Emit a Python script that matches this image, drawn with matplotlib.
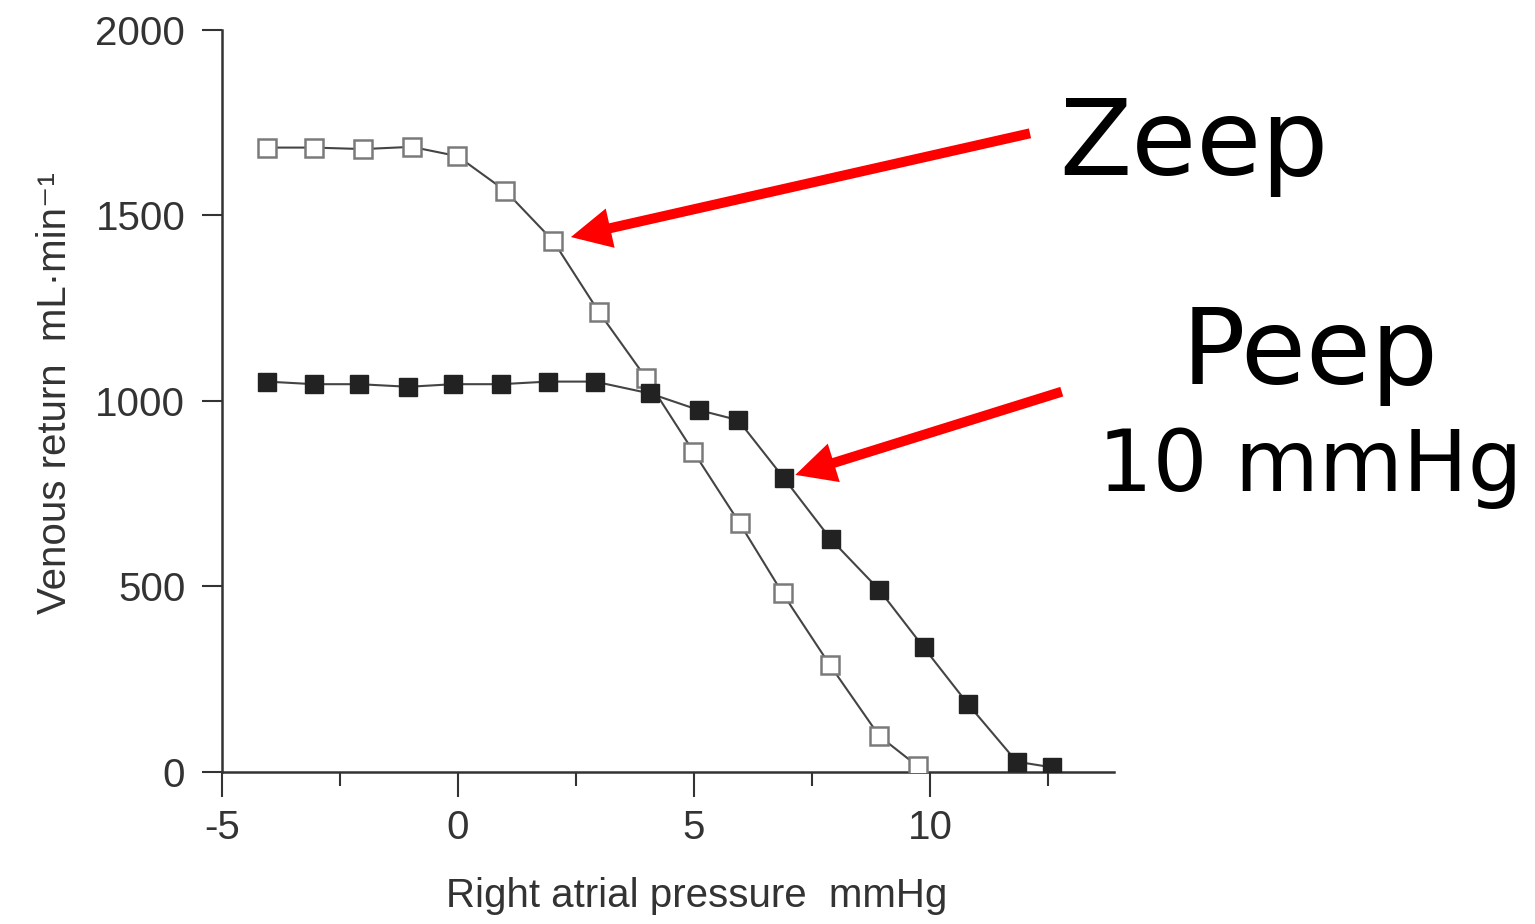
import matplotlib
matplotlib.use("Agg")
import matplotlib.pyplot as plt
from matplotlib.ticker import MultipleLocator

# ---------- DATA ----------
zeep_pressure = [-4.05, -3.05, -2.01, -0.98, -0.01, 1.0, 2.02, 2.99, 3.99,
                 4.99, 5.97, 6.88, 7.88, 8.93, 9.74]
zeep_return = [1683, 1683, 1679, 1685, 1660, 1567, 1431, 1239, 1061,
               863, 670, 481, 288, 96, 15]

peep_pressure = [-4.05, -3.05, -2.09, -1.05, -0.1, 0.91, 1.91, 2.9, 4.07,
                 5.11, 5.94, 6.91, 7.9, 8.93, 9.87, 10.81, 11.84, 12.58]
peep_return = [1052, 1045, 1045, 1038, 1045, 1045, 1052, 1052, 1020,
               975, 948, 791, 627, 490, 335, 182, 27, 12]

x_ticks = [-5, 0, 5, 10]
y_ticks = [0, 500, 1000, 1500, 2000]
x_label = "Right atrial pressure  mmHg"
y_label = "Venous return  mL·min⁻¹"

zeep_text = "Zeep"
peep_text = "Peep"
peep_level_text = "10 mmHg"

# ---------- STYLE ----------
plt.rcParams["font.family"] = ["Liberation Sans", "DejaVu Sans"]
plt.rcParams["axes.unicode_minus"] = False
axis_color = "#333333"

fig = plt.figure(figsize=(15.35, 9.24), dpi=100)
ax = fig.add_axes([0.1446, 0.1648, 0.5811, 0.8027])

# open squares = ZEEP, filled squares = PEEP 10
ax.plot(zeep_pressure, zeep_return, color="#444444", lw=1.5,
        marker="s", ms=13.5, mfc="white", mec="#7a7a7a", mew=1.8, zorder=3)
ax.plot(peep_pressure, peep_return, color="#444444", lw=1.5,
        marker="s", ms=13.5, mfc="#222222", mec="#222222", mew=1.0, zorder=4)

ax.set_xlim(-5, 13.9)
ax.set_ylim(0, 2000)
ax.set_xticks(x_ticks)
ax.set_yticks(y_ticks)
ax.xaxis.set_minor_locator(MultipleLocator(2.5))

for side in ["top", "right"]:
    ax.spines[side].set_visible(False)
for side in ["left", "bottom"]:
    ax.spines[side].set_color(axis_color)
    ax.spines[side].set_linewidth(1.8)

ax.tick_params(axis="x", which="major", length=18, width=1.5, pad=9,
               colors=axis_color, labelsize=29)
ax.tick_params(axis="x", which="minor", length=10, width=1.5, colors=axis_color)
ax.tick_params(axis="y", which="major", length=14.4, width=1.5, pad=12,
               colors=axis_color, labelsize=29)

ax.set_xlabel(x_label, fontsize=29, color=axis_color)
ax.xaxis.set_label_coords(0.532, -0.142)
ax.set_ylabel(y_label, fontsize=29, color=axis_color)
ax.yaxis.set_label_coords(-0.166, 0.51)

# ---------- ANNOTATIONS ----------
fig.text(0.690, 0.8106, zeep_text, fontsize=76, family="DejaVu Sans",
         color="black", ha="left", va="baseline")
fig.text(0.8534, 0.5844, peep_text, fontsize=76, family="DejaVu Sans",
         color="black", ha="center", va="baseline")
fig.text(0.8534, 0.4690, peep_level_text, fontsize=62, family="DejaVu Sans",
         color="black", ha="center", va="baseline")

arrow_style = "simple,head_length=2.9,head_width=2.9,tail_width=0.72"
ax.annotate("", xy=(zeep_pressure[6], zeep_return[6]), xycoords="data",
            xytext=(0.671, 0.8557), textcoords="figure fraction",
            arrowprops=dict(arrowstyle=arrow_style, mutation_scale=10,
                            color="#ff0000", lw=0, shrinkA=0, shrinkB=13),
            annotation_clip=False)
ax.annotate("", xy=(peep_pressure[11], peep_return[11]), xycoords="data",
            xytext=(0.6917, 0.5761), textcoords="figure fraction",
            arrowprops=dict(arrowstyle=arrow_style, mutation_scale=10,
                            color="#ff0000", lw=0, shrinkA=0, shrinkB=8.5),
            annotation_clip=False)

fig.savefig("out.png", dpi=100)
